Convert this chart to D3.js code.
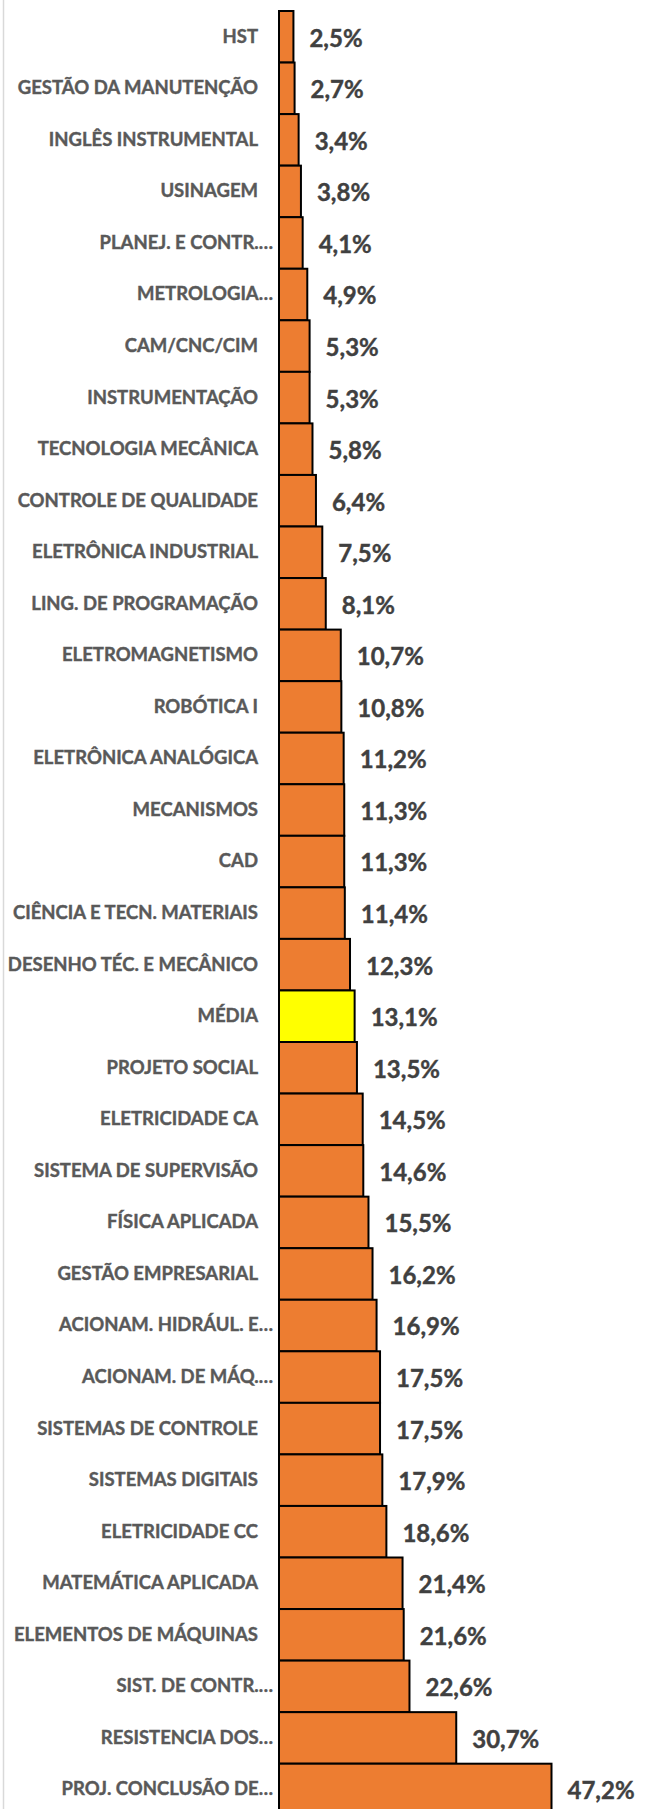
<!DOCTYPE html>
<html>
<head>
<meta charset="utf-8">
<script src="https://cdn.jsdelivr.net/npm/d3@7"></script>
<style>
  html, body { margin: 0; padding: 0; background: #ffffff; }
  svg { display: block; }
</style>
</head>
<body>
<script>
const categories = [
  "HST", "GESTÃO DA MANUTENÇÃO", "INGLÊS INSTRUMENTAL", "USINAGEM", "PLANEJ. E CONTR.…",
  "METROLOGIA…", "CAM/CNC/CIM", "INSTRUMENTAÇÃO", "TECNOLOGIA MECÂNICA", "CONTROLE DE QUALIDADE",
  "ELETRÔNICA INDUSTRIAL", "LING. DE PROGRAMAÇÃO", "ELETROMAGNETISMO", "ROBÓTICA I", "ELETRÔNICA ANALÓGICA",
  "MECANISMOS", "CAD", "CIÊNCIA E TECN. MATERIAIS", "DESENHO TÉC. E MECÂNICO", "MÉDIA",
  "PROJETO SOCIAL", "ELETRICIDADE CA", "SISTEMA DE SUPERVISÃO", "FÍSICA APLICADA", "GESTÃO EMPRESARIAL",
  "ACIONAM. HIDRÁUL. E…", "ACIONAM. DE MÁQ.…", "SISTEMAS DE CONTROLE", "SISTEMAS DIGITAIS", "ELETRICIDADE CC",
  "MATEMÁTICA APLICADA", "ELEMENTOS DE MÁQUINAS", "SIST. DE CONTR.…", "RESISTENCIA DOS…", "PROJ. CONCLUSÃO DE…"
];
const values = [
  2.5, 2.7, 3.4, 3.8, 4.1,
  4.9, 5.3, 5.3, 5.8, 6.4,
  7.5, 8.1, 10.7, 10.8, 11.2,
  11.3, 11.3, 11.4, 12.3, 13.1,
  13.5, 14.5, 14.6, 15.5, 16.2,
  16.9, 17.5, 17.5, 17.9, 18.6,
  21.4, 21.6, 22.6, 30.7, 47.2
];
const highlight = "MÉDIA";

const W = 651, H = 1809;
const data = categories.map((c, i) => ({ cat: c, val: values[i] }));

const svg = d3.select("body").append("svg").attr("width", W).attr("height", H);

// chart area border line on the left
svg.append("line")
  .attr("x1", 3.5).attr("x2", 3.5).attr("y1", 0).attr("y2", H)
  .attr("stroke", "#d9d9d9").attr("stroke-width", 1.5);

const x = d3.scaleLinear().domain([0, 47.2]).range([279, 551.5]);
const y = d3.scaleBand().domain(categories).range([11, 11 + 35 * 51.55]).padding(0);

svg.append("g").selectAll("rect").data(data).join("rect")
  .attr("x", x(0))
  .attr("y", d => y(d.cat))
  .attr("width", d => x(d.val) - x(0))
  .attr("height", y.bandwidth())
  .attr("fill", d => d.cat === highlight ? "#FFFF00" : "#ED7D31")
  .attr("stroke", "#000000")
  .attr("stroke-width", 2);

// category axis labels
const yAxis = d3.axisLeft(y).tickSize(0).tickPadding(0);
const gy = svg.append("g").attr("transform", "translate(258,0)").call(yAxis);
gy.select(".domain").remove();
gy.selectAll("text")
  .attr("x", d => d.endsWith("…") ? 15 : 0)
  .attr("font-family", "Lato, 'Open Sans', sans-serif")
  .attr("font-weight", "bold")
  .attr("font-size", 18.5)
  .attr("fill", "#595959")
  .attr("stroke", "#595959")
  .attr("stroke-width", 0.4);

// value labels
svg.append("g").selectAll("text").data(data).join("text")
  .attr("x", d => x(d.val) + 16)
  .attr("y", d => y(d.cat) + y.bandwidth() / 2 + 1.5)
  .attr("dy", "0.35em")
  .attr("font-family", "Lato, 'Open Sans', sans-serif")
  .attr("font-weight", "bold")
  .attr("font-size", 24)
  .attr("fill", "#404040")
  .attr("stroke", "#404040")
  .attr("stroke-width", 0.4)
  .text(d => d.val.toFixed(1).replace(".", ",") + "%");
</script>
</body>
</html>
